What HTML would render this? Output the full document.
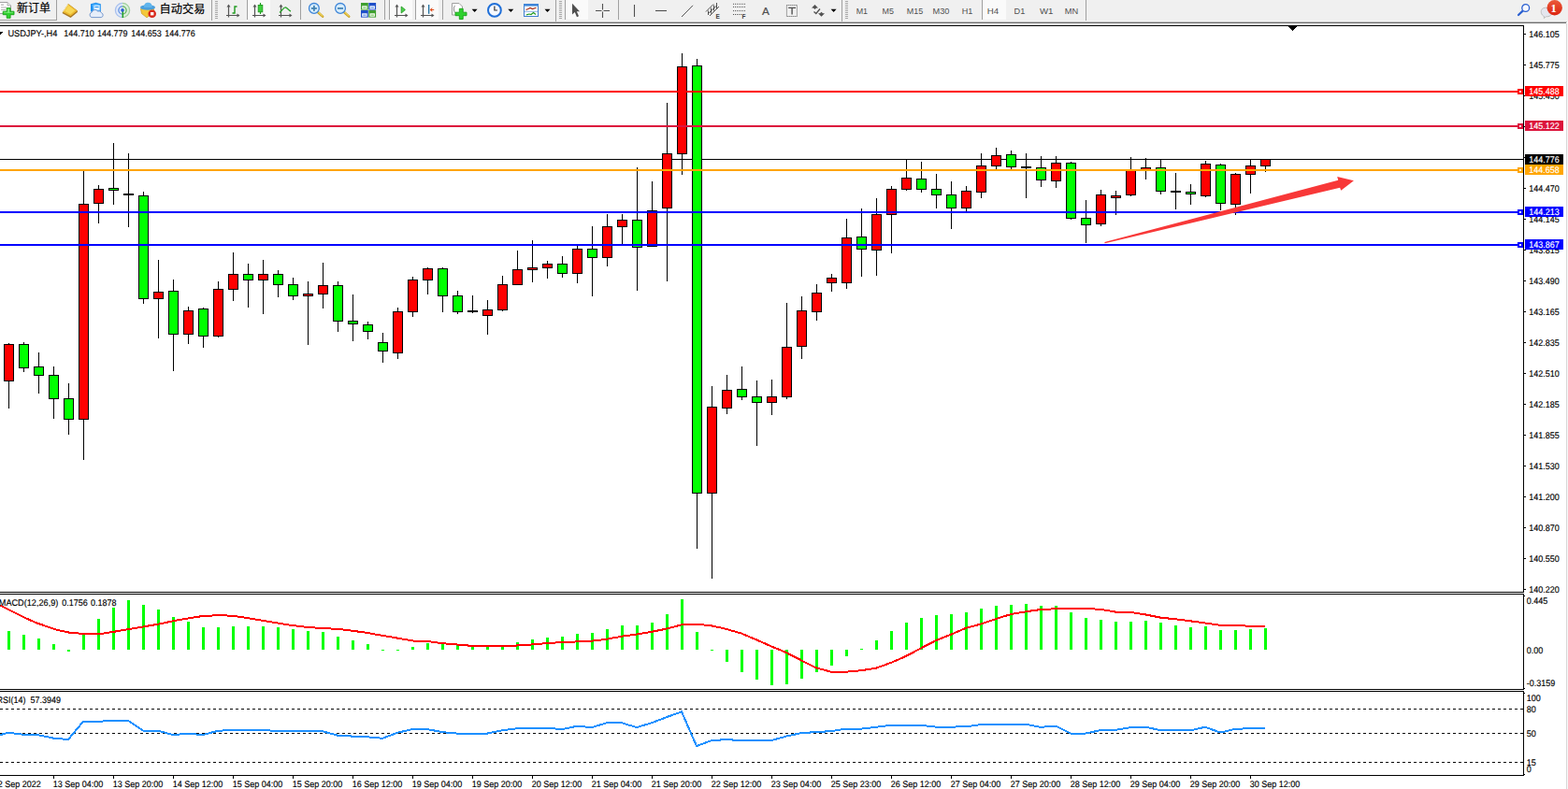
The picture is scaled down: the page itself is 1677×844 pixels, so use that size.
<!DOCTYPE html>
<html><head><meta charset="utf-8"><title>USDJPY H4</title>
<style>
html,body{margin:0;padding:0;background:#fff;overflow:hidden}
body{width:1677px;height:844px;position:relative;font-family:"Liberation Sans",sans-serif}
svg{position:absolute;left:0;top:0;display:block}
text{white-space:pre}
</style></head><body>
<svg width="1677" height="844" viewBox="0 0 1677 844">
<g shape-rendering="crispEdges">
<rect x="0" y="0" width="1677" height="844" fill="#ffffff"/>
<rect x="0" y="0" width="1677" height="23" fill="#f0f0f0"/>
<rect x="0" y="22" width="1677" height="1" fill="#f4f4f4"/>
<rect x="0" y="23" width="1676" height="1" fill="#bdbdbd"/>
<rect x="0" y="24" width="1675" height="1" fill="#6e6e6e"/>
<rect x="1675" y="25" width="1" height="819" fill="#d8d8d8"/>
<rect x="1676" y="25" width="1" height="819" fill="#f8f8f8"/>
<rect x="0" y="27" width="1630" height="1" fill="#000"/>
<rect x="1629" y="27" width="1" height="607" fill="#000"/>
<rect x="0" y="633" width="1630" height="1" fill="#000"/>
<rect x="0" y="635" width="1630" height="1" fill="#000"/>
<rect x="1629" y="635" width="1" height="103" fill="#000"/>
<rect x="0" y="737" width="1630" height="1" fill="#000"/>
<rect x="0" y="739" width="1630" height="1" fill="#000"/>
<rect x="1629" y="739" width="1" height="91" fill="#000"/>
<rect x="0" y="829" width="1630" height="1" fill="#000"/>
<rect x="0" y="170" width="1629" height="1" fill="#000"/>
<rect x="9" y="367" width="1" height="70" fill="#000"/>
<rect x="4" y="368" width="11" height="40" fill="#000"/>
<rect x="5" y="369" width="9" height="38" fill="#ff0000"/>
<rect x="25" y="366" width="1" height="32" fill="#000"/>
<rect x="20" y="368" width="11" height="26" fill="#000"/>
<rect x="21" y="369" width="9" height="24" fill="#00ff00"/>
<rect x="41" y="377" width="1" height="44" fill="#000"/>
<rect x="36" y="392" width="11" height="10" fill="#000"/>
<rect x="37" y="393" width="9" height="8" fill="#00ff00"/>
<rect x="57" y="392" width="1" height="56" fill="#000"/>
<rect x="52" y="401" width="11" height="26" fill="#000"/>
<rect x="53" y="402" width="9" height="24" fill="#00ff00"/>
<rect x="73" y="410" width="1" height="55" fill="#000"/>
<rect x="68" y="426" width="11" height="23" fill="#000"/>
<rect x="69" y="427" width="9" height="21" fill="#00ff00"/>
<rect x="89" y="183" width="1" height="309" fill="#000"/>
<rect x="84" y="218" width="11" height="231" fill="#000"/>
<rect x="85" y="219" width="9" height="229" fill="#ff0000"/>
<rect x="105" y="198" width="1" height="41" fill="#000"/>
<rect x="100" y="202" width="11" height="16" fill="#000"/>
<rect x="101" y="203" width="9" height="14" fill="#ff0000"/>
<rect x="121" y="153" width="1" height="66" fill="#000"/>
<rect x="116" y="201" width="11" height="3" fill="#000"/>
<rect x="117" y="202" width="9" height="1" fill="#00ff00"/>
<rect x="137" y="164" width="1" height="79" fill="#000"/>
<rect x="132" y="207" width="11" height="2" fill="#000"/>
<rect x="153" y="205" width="1" height="120" fill="#000"/>
<rect x="148" y="209" width="11" height="111" fill="#000"/>
<rect x="149" y="210" width="9" height="109" fill="#00ff00"/>
<rect x="169" y="278" width="1" height="84" fill="#000"/>
<rect x="164" y="312" width="11" height="8" fill="#000"/>
<rect x="165" y="313" width="9" height="6" fill="#ff0000"/>
<rect x="185" y="299" width="1" height="98" fill="#000"/>
<rect x="180" y="311" width="11" height="47" fill="#000"/>
<rect x="181" y="312" width="9" height="45" fill="#00ff00"/>
<rect x="201" y="328" width="1" height="40" fill="#000"/>
<rect x="196" y="332" width="11" height="26" fill="#000"/>
<rect x="197" y="333" width="9" height="24" fill="#ff0000"/>
<rect x="217" y="329" width="1" height="43" fill="#000"/>
<rect x="212" y="330" width="11" height="30" fill="#000"/>
<rect x="213" y="331" width="9" height="28" fill="#00ff00"/>
<rect x="233" y="301" width="1" height="60" fill="#000"/>
<rect x="228" y="309" width="11" height="51" fill="#000"/>
<rect x="229" y="310" width="9" height="49" fill="#ff0000"/>
<rect x="249" y="270" width="1" height="52" fill="#000"/>
<rect x="244" y="293" width="11" height="17" fill="#000"/>
<rect x="245" y="294" width="9" height="15" fill="#ff0000"/>
<rect x="265" y="282" width="1" height="47" fill="#000"/>
<rect x="260" y="293" width="11" height="7" fill="#000"/>
<rect x="261" y="294" width="9" height="5" fill="#00ff00"/>
<rect x="281" y="278" width="1" height="58" fill="#000"/>
<rect x="276" y="293" width="11" height="7" fill="#000"/>
<rect x="277" y="294" width="9" height="5" fill="#ff0000"/>
<rect x="297" y="289" width="1" height="29" fill="#000"/>
<rect x="292" y="293" width="11" height="12" fill="#000"/>
<rect x="293" y="294" width="9" height="10" fill="#00ff00"/>
<rect x="313" y="297" width="1" height="24" fill="#000"/>
<rect x="308" y="304" width="11" height="13" fill="#000"/>
<rect x="309" y="305" width="9" height="11" fill="#00ff00"/>
<rect x="329" y="301" width="1" height="68" fill="#000"/>
<rect x="324" y="314" width="11" height="3" fill="#000"/>
<rect x="325" y="315" width="9" height="1" fill="#ff0000"/>
<rect x="345" y="281" width="1" height="49" fill="#000"/>
<rect x="340" y="305" width="11" height="10" fill="#000"/>
<rect x="341" y="306" width="9" height="8" fill="#ff0000"/>
<rect x="361" y="301" width="1" height="54" fill="#000"/>
<rect x="356" y="305" width="11" height="39" fill="#000"/>
<rect x="357" y="306" width="9" height="37" fill="#00ff00"/>
<rect x="377" y="315" width="1" height="50" fill="#000"/>
<rect x="372" y="343" width="11" height="4" fill="#000"/>
<rect x="373" y="344" width="9" height="2" fill="#00ff00"/>
<rect x="393" y="344" width="1" height="19" fill="#000"/>
<rect x="388" y="347" width="11" height="8" fill="#000"/>
<rect x="389" y="348" width="9" height="6" fill="#00ff00"/>
<rect x="409" y="356" width="1" height="32" fill="#000"/>
<rect x="404" y="366" width="11" height="10" fill="#000"/>
<rect x="405" y="367" width="9" height="8" fill="#00ff00"/>
<rect x="425" y="329" width="1" height="55" fill="#000"/>
<rect x="420" y="333" width="11" height="45" fill="#000"/>
<rect x="421" y="334" width="9" height="43" fill="#ff0000"/>
<rect x="441" y="296" width="1" height="43" fill="#000"/>
<rect x="436" y="299" width="11" height="35" fill="#000"/>
<rect x="437" y="300" width="9" height="33" fill="#ff0000"/>
<rect x="457" y="286" width="1" height="29" fill="#000"/>
<rect x="452" y="287" width="11" height="13" fill="#000"/>
<rect x="453" y="288" width="9" height="11" fill="#ff0000"/>
<rect x="473" y="286" width="1" height="48" fill="#000"/>
<rect x="468" y="287" width="11" height="30" fill="#000"/>
<rect x="469" y="288" width="9" height="28" fill="#00ff00"/>
<rect x="489" y="311" width="1" height="25" fill="#000"/>
<rect x="484" y="316" width="11" height="18" fill="#000"/>
<rect x="485" y="317" width="9" height="16" fill="#00ff00"/>
<rect x="505" y="316" width="1" height="19" fill="#000"/>
<rect x="500" y="332" width="11" height="2" fill="#000"/>
<rect x="521" y="321" width="1" height="37" fill="#000"/>
<rect x="516" y="331" width="11" height="7" fill="#000"/>
<rect x="517" y="332" width="9" height="5" fill="#ff0000"/>
<rect x="537" y="295" width="1" height="38" fill="#000"/>
<rect x="532" y="304" width="11" height="28" fill="#000"/>
<rect x="533" y="305" width="9" height="26" fill="#ff0000"/>
<rect x="553" y="268" width="1" height="37" fill="#000"/>
<rect x="548" y="288" width="11" height="17" fill="#000"/>
<rect x="549" y="289" width="9" height="15" fill="#ff0000"/>
<rect x="569" y="257" width="1" height="45" fill="#000"/>
<rect x="564" y="286" width="11" height="3" fill="#000"/>
<rect x="565" y="287" width="9" height="1" fill="#ff0000"/>
<rect x="585" y="279" width="1" height="19" fill="#000"/>
<rect x="580" y="282" width="11" height="5" fill="#000"/>
<rect x="581" y="283" width="9" height="3" fill="#ff0000"/>
<rect x="601" y="274" width="1" height="23" fill="#000"/>
<rect x="596" y="282" width="11" height="11" fill="#000"/>
<rect x="597" y="283" width="9" height="9" fill="#00ff00"/>
<rect x="617" y="263" width="1" height="40" fill="#000"/>
<rect x="612" y="266" width="11" height="27" fill="#000"/>
<rect x="613" y="267" width="9" height="25" fill="#ff0000"/>
<rect x="633" y="242" width="1" height="75" fill="#000"/>
<rect x="628" y="266" width="11" height="10" fill="#000"/>
<rect x="629" y="267" width="9" height="8" fill="#00ff00"/>
<rect x="649" y="229" width="1" height="56" fill="#000"/>
<rect x="644" y="242" width="11" height="34" fill="#000"/>
<rect x="645" y="243" width="9" height="32" fill="#ff0000"/>
<rect x="665" y="229" width="1" height="32" fill="#000"/>
<rect x="660" y="235" width="11" height="8" fill="#000"/>
<rect x="661" y="236" width="9" height="6" fill="#ff0000"/>
<rect x="681" y="179" width="1" height="132" fill="#000"/>
<rect x="676" y="235" width="11" height="30" fill="#000"/>
<rect x="677" y="236" width="9" height="28" fill="#00ff00"/>
<rect x="697" y="194" width="1" height="70" fill="#000"/>
<rect x="692" y="225" width="11" height="39" fill="#000"/>
<rect x="693" y="226" width="9" height="37" fill="#ff0000"/>
<rect x="713" y="110" width="1" height="191" fill="#000"/>
<rect x="708" y="164" width="11" height="59" fill="#000"/>
<rect x="709" y="165" width="9" height="57" fill="#ff0000"/>
<rect x="729" y="57" width="1" height="130" fill="#000"/>
<rect x="724" y="71" width="11" height="94" fill="#000"/>
<rect x="725" y="72" width="9" height="92" fill="#ff0000"/>
<rect x="745" y="63" width="1" height="524" fill="#000"/>
<rect x="740" y="70" width="11" height="458" fill="#000"/>
<rect x="741" y="71" width="9" height="456" fill="#00ff00"/>
<rect x="761" y="413" width="1" height="206" fill="#000"/>
<rect x="756" y="435" width="11" height="93" fill="#000"/>
<rect x="757" y="436" width="9" height="91" fill="#ff0000"/>
<rect x="777" y="401" width="1" height="42" fill="#000"/>
<rect x="772" y="417" width="11" height="20" fill="#000"/>
<rect x="773" y="418" width="9" height="18" fill="#ff0000"/>
<rect x="793" y="392" width="1" height="36" fill="#000"/>
<rect x="788" y="416" width="11" height="9" fill="#000"/>
<rect x="789" y="417" width="9" height="7" fill="#00ff00"/>
<rect x="809" y="407" width="1" height="70" fill="#000"/>
<rect x="804" y="424" width="11" height="7" fill="#000"/>
<rect x="805" y="425" width="9" height="5" fill="#00ff00"/>
<rect x="825" y="406" width="1" height="38" fill="#000"/>
<rect x="820" y="424" width="11" height="7" fill="#000"/>
<rect x="821" y="425" width="9" height="5" fill="#ff0000"/>
<rect x="841" y="324" width="1" height="103" fill="#000"/>
<rect x="836" y="371" width="11" height="54" fill="#000"/>
<rect x="837" y="372" width="9" height="52" fill="#ff0000"/>
<rect x="857" y="317" width="1" height="67" fill="#000"/>
<rect x="852" y="332" width="11" height="39" fill="#000"/>
<rect x="853" y="333" width="9" height="37" fill="#ff0000"/>
<rect x="873" y="304" width="1" height="39" fill="#000"/>
<rect x="868" y="313" width="11" height="21" fill="#000"/>
<rect x="869" y="314" width="9" height="19" fill="#ff0000"/>
<rect x="889" y="293" width="1" height="19" fill="#000"/>
<rect x="884" y="297" width="11" height="6" fill="#000"/>
<rect x="885" y="298" width="9" height="4" fill="#ff0000"/>
<rect x="905" y="234" width="1" height="75" fill="#000"/>
<rect x="900" y="254" width="11" height="49" fill="#000"/>
<rect x="901" y="255" width="9" height="47" fill="#ff0000"/>
<rect x="921" y="223" width="1" height="73" fill="#000"/>
<rect x="916" y="253" width="11" height="14" fill="#000"/>
<rect x="917" y="254" width="9" height="12" fill="#00ff00"/>
<rect x="937" y="212" width="1" height="83" fill="#000"/>
<rect x="932" y="229" width="11" height="39" fill="#000"/>
<rect x="933" y="230" width="9" height="37" fill="#ff0000"/>
<rect x="953" y="199" width="1" height="72" fill="#000"/>
<rect x="948" y="202" width="11" height="28" fill="#000"/>
<rect x="949" y="203" width="9" height="26" fill="#ff0000"/>
<rect x="969" y="171" width="1" height="33" fill="#000"/>
<rect x="964" y="190" width="11" height="13" fill="#000"/>
<rect x="965" y="191" width="9" height="11" fill="#ff0000"/>
<rect x="985" y="173" width="1" height="33" fill="#000"/>
<rect x="980" y="191" width="11" height="12" fill="#000"/>
<rect x="981" y="192" width="9" height="10" fill="#00ff00"/>
<rect x="1001" y="186" width="1" height="37" fill="#000"/>
<rect x="996" y="202" width="11" height="7" fill="#000"/>
<rect x="997" y="203" width="9" height="5" fill="#00ff00"/>
<rect x="1017" y="194" width="1" height="51" fill="#000"/>
<rect x="1012" y="208" width="11" height="15" fill="#000"/>
<rect x="1013" y="209" width="9" height="13" fill="#00ff00"/>
<rect x="1033" y="199" width="1" height="27" fill="#000"/>
<rect x="1028" y="204" width="11" height="19" fill="#000"/>
<rect x="1029" y="205" width="9" height="17" fill="#ff0000"/>
<rect x="1049" y="164" width="1" height="48" fill="#000"/>
<rect x="1044" y="177" width="11" height="29" fill="#000"/>
<rect x="1045" y="178" width="9" height="27" fill="#ff0000"/>
<rect x="1065" y="158" width="1" height="23" fill="#000"/>
<rect x="1060" y="166" width="11" height="12" fill="#000"/>
<rect x="1061" y="167" width="9" height="10" fill="#ff0000"/>
<rect x="1081" y="161" width="1" height="20" fill="#000"/>
<rect x="1076" y="165" width="11" height="14" fill="#000"/>
<rect x="1077" y="166" width="9" height="12" fill="#00ff00"/>
<rect x="1097" y="164" width="1" height="48" fill="#000"/>
<rect x="1092" y="178" width="11" height="2" fill="#000"/>
<rect x="1113" y="167" width="1" height="33" fill="#000"/>
<rect x="1108" y="179" width="11" height="14" fill="#000"/>
<rect x="1109" y="180" width="9" height="12" fill="#00ff00"/>
<rect x="1129" y="167" width="1" height="34" fill="#000"/>
<rect x="1124" y="174" width="11" height="20" fill="#000"/>
<rect x="1125" y="175" width="9" height="18" fill="#ff0000"/>
<rect x="1145" y="173" width="1" height="62" fill="#000"/>
<rect x="1140" y="174" width="11" height="60" fill="#000"/>
<rect x="1141" y="175" width="9" height="58" fill="#00ff00"/>
<rect x="1161" y="214" width="1" height="46" fill="#000"/>
<rect x="1156" y="233" width="11" height="8" fill="#000"/>
<rect x="1157" y="234" width="9" height="6" fill="#00ff00"/>
<rect x="1177" y="203" width="1" height="39" fill="#000"/>
<rect x="1172" y="208" width="11" height="32" fill="#000"/>
<rect x="1173" y="209" width="9" height="30" fill="#ff0000"/>
<rect x="1193" y="204" width="1" height="26" fill="#000"/>
<rect x="1188" y="209" width="11" height="3" fill="#000"/>
<rect x="1189" y="210" width="9" height="1" fill="#ff0000"/>
<rect x="1209" y="168" width="1" height="42" fill="#000"/>
<rect x="1204" y="181" width="11" height="28" fill="#000"/>
<rect x="1205" y="182" width="9" height="26" fill="#ff0000"/>
<rect x="1225" y="169" width="1" height="23" fill="#000"/>
<rect x="1220" y="179" width="11" height="4" fill="#000"/>
<rect x="1221" y="180" width="9" height="2" fill="#ff0000"/>
<rect x="1241" y="170" width="1" height="38" fill="#000"/>
<rect x="1236" y="179" width="11" height="26" fill="#000"/>
<rect x="1237" y="180" width="9" height="24" fill="#00ff00"/>
<rect x="1257" y="185" width="1" height="39" fill="#000"/>
<rect x="1252" y="204" width="11" height="2" fill="#000"/>
<rect x="1273" y="197" width="1" height="22" fill="#000"/>
<rect x="1268" y="205" width="11" height="3" fill="#000"/>
<rect x="1269" y="206" width="9" height="1" fill="#00ff00"/>
<rect x="1289" y="172" width="1" height="39" fill="#000"/>
<rect x="1284" y="175" width="11" height="35" fill="#000"/>
<rect x="1285" y="176" width="9" height="33" fill="#ff0000"/>
<rect x="1305" y="175" width="1" height="50" fill="#000"/>
<rect x="1300" y="176" width="11" height="42" fill="#000"/>
<rect x="1301" y="177" width="9" height="40" fill="#00ff00"/>
<rect x="1321" y="185" width="1" height="45" fill="#000"/>
<rect x="1316" y="186" width="11" height="33" fill="#000"/>
<rect x="1317" y="187" width="9" height="31" fill="#ff0000"/>
<rect x="1337" y="170" width="1" height="37" fill="#000"/>
<rect x="1332" y="177" width="11" height="10" fill="#000"/>
<rect x="1333" y="178" width="9" height="8" fill="#ff0000"/>
<rect x="1353" y="170" width="1" height="14" fill="#000"/>
<rect x="1348" y="170" width="11" height="8" fill="#000"/>
<rect x="1349" y="171" width="9" height="6" fill="#ff0000"/>
<rect x="0" y="97" width="1629" height="2" fill="#ff0000"/>
<rect x="0" y="134" width="1629" height="2" fill="#dc143c"/>
<rect x="0" y="181" width="1629" height="2" fill="#ffa500"/>
<rect x="0" y="226" width="1629" height="2" fill="#0000ff"/>
<rect x="0" y="261" width="1629" height="2" fill="#0000ff"/>
<rect x="8" y="675" width="3" height="20" fill="#00ff00"/>
<rect x="24" y="679" width="3" height="16" fill="#00ff00"/>
<rect x="40" y="683" width="3" height="12" fill="#00ff00"/>
<rect x="56" y="689" width="3" height="6" fill="#00ff00"/>
<rect x="72" y="695" width="3" height="2" fill="#00ff00"/>
<rect x="88" y="679" width="3" height="16" fill="#00ff00"/>
<rect x="104" y="662" width="3" height="33" fill="#00ff00"/>
<rect x="120" y="650" width="3" height="45" fill="#00ff00"/>
<rect x="136" y="642" width="3" height="53" fill="#00ff00"/>
<rect x="152" y="647" width="3" height="48" fill="#00ff00"/>
<rect x="168" y="652" width="3" height="43" fill="#00ff00"/>
<rect x="184" y="660" width="3" height="35" fill="#00ff00"/>
<rect x="200" y="665" width="3" height="30" fill="#00ff00"/>
<rect x="216" y="671" width="3" height="24" fill="#00ff00"/>
<rect x="232" y="671" width="3" height="24" fill="#00ff00"/>
<rect x="248" y="670" width="3" height="25" fill="#00ff00"/>
<rect x="264" y="670" width="3" height="25" fill="#00ff00"/>
<rect x="280" y="670" width="3" height="25" fill="#00ff00"/>
<rect x="296" y="671" width="3" height="24" fill="#00ff00"/>
<rect x="312" y="673" width="3" height="22" fill="#00ff00"/>
<rect x="328" y="675" width="3" height="20" fill="#00ff00"/>
<rect x="344" y="676" width="3" height="19" fill="#00ff00"/>
<rect x="360" y="681" width="3" height="14" fill="#00ff00"/>
<rect x="376" y="685" width="3" height="10" fill="#00ff00"/>
<rect x="392" y="689" width="3" height="6" fill="#00ff00"/>
<rect x="408" y="695" width="3" height="1" fill="#00ff00"/>
<rect x="424" y="695" width="3" height="1" fill="#00ff00"/>
<rect x="440" y="692" width="3" height="3" fill="#00ff00"/>
<rect x="456" y="688" width="3" height="7" fill="#00ff00"/>
<rect x="472" y="689" width="3" height="6" fill="#00ff00"/>
<rect x="488" y="689" width="3" height="6" fill="#00ff00"/>
<rect x="504" y="690" width="3" height="5" fill="#00ff00"/>
<rect x="520" y="691" width="3" height="4" fill="#00ff00"/>
<rect x="536" y="691" width="3" height="4" fill="#00ff00"/>
<rect x="552" y="687" width="3" height="8" fill="#00ff00"/>
<rect x="568" y="684" width="3" height="11" fill="#00ff00"/>
<rect x="584" y="682" width="3" height="13" fill="#00ff00"/>
<rect x="600" y="681" width="3" height="14" fill="#00ff00"/>
<rect x="616" y="678" width="3" height="17" fill="#00ff00"/>
<rect x="632" y="677" width="3" height="18" fill="#00ff00"/>
<rect x="648" y="673" width="3" height="22" fill="#00ff00"/>
<rect x="664" y="669" width="3" height="26" fill="#00ff00"/>
<rect x="680" y="669" width="3" height="26" fill="#00ff00"/>
<rect x="696" y="666" width="3" height="29" fill="#00ff00"/>
<rect x="712" y="657" width="3" height="38" fill="#00ff00"/>
<rect x="728" y="641" width="3" height="54" fill="#00ff00"/>
<rect x="744" y="676" width="3" height="19" fill="#00ff00"/>
<rect x="760" y="695" width="3" height="1" fill="#00ff00"/>
<rect x="776" y="695" width="3" height="13" fill="#00ff00"/>
<rect x="792" y="695" width="3" height="24" fill="#00ff00"/>
<rect x="808" y="695" width="3" height="32" fill="#00ff00"/>
<rect x="824" y="695" width="3" height="38" fill="#00ff00"/>
<rect x="840" y="695" width="3" height="37" fill="#00ff00"/>
<rect x="856" y="695" width="3" height="31" fill="#00ff00"/>
<rect x="872" y="695" width="3" height="24" fill="#00ff00"/>
<rect x="888" y="695" width="3" height="17" fill="#00ff00"/>
<rect x="904" y="695" width="3" height="7" fill="#00ff00"/>
<rect x="920" y="694" width="3" height="1" fill="#00ff00"/>
<rect x="936" y="685" width="3" height="10" fill="#00ff00"/>
<rect x="952" y="675" width="3" height="20" fill="#00ff00"/>
<rect x="968" y="666" width="3" height="29" fill="#00ff00"/>
<rect x="984" y="661" width="3" height="34" fill="#00ff00"/>
<rect x="1000" y="658" width="3" height="37" fill="#00ff00"/>
<rect x="1016" y="657" width="3" height="38" fill="#00ff00"/>
<rect x="1032" y="655" width="3" height="40" fill="#00ff00"/>
<rect x="1048" y="651" width="3" height="44" fill="#00ff00"/>
<rect x="1064" y="648" width="3" height="47" fill="#00ff00"/>
<rect x="1080" y="647" width="3" height="48" fill="#00ff00"/>
<rect x="1096" y="646" width="3" height="49" fill="#00ff00"/>
<rect x="1112" y="648" width="3" height="47" fill="#00ff00"/>
<rect x="1128" y="648" width="3" height="47" fill="#00ff00"/>
<rect x="1144" y="655" width="3" height="40" fill="#00ff00"/>
<rect x="1160" y="661" width="3" height="34" fill="#00ff00"/>
<rect x="1176" y="663" width="3" height="32" fill="#00ff00"/>
<rect x="1192" y="665" width="3" height="30" fill="#00ff00"/>
<rect x="1208" y="665" width="3" height="30" fill="#00ff00"/>
<rect x="1224" y="664" width="3" height="31" fill="#00ff00"/>
<rect x="1240" y="666" width="3" height="29" fill="#00ff00"/>
<rect x="1256" y="669" width="3" height="26" fill="#00ff00"/>
<rect x="1272" y="671" width="3" height="24" fill="#00ff00"/>
<rect x="1288" y="670" width="3" height="25" fill="#00ff00"/>
<rect x="1304" y="674" width="3" height="21" fill="#00ff00"/>
<rect x="1320" y="674" width="3" height="21" fill="#00ff00"/>
<rect x="1336" y="673" width="3" height="22" fill="#00ff00"/>
<rect x="1352" y="672" width="3" height="23" fill="#00ff00"/>
</g>
<polyline points="0,647.5 12.5,653.8 25,660.1 37.6,665.8 50,670.1 62.6,674.3 75,676.8 87.7,677.8 100,677.8 110,677.6 120,676.1 137.7,673.1 155,670.1 170,667.6 185,664.3 200,661.6 218,658.8 233,658.3 248,658.6 263,660.8 278,663.3 295.5,666.3 313,669.1 330.6,671.1 345.6,672.1 360.6,672.8 375.7,674.6 390.7,676.6 405.7,679.3 425,682.6 442.6,685.6 457.6,686.1 472.6,688.1 490,689.6 505,690.9 550,690.9 555,690.1 570,689.4 585,688.1 600,687.1 618,686.4 633,685.6 648,683.9 665.5,680.6 680.5,678.6 698,675.6 713,672.6 729,668.3 750.6,668.3 760.6,669.3 775.7,672.6 793,677.6 808,683.9 825,691.4 841,698.1 857,706.4 873,714.4 889,718.7 905,718.7 921,717.2 937,714.7 953,708.9 969,701.9 985,693.4 1001,685.1 1017,678.8 1033,671.8 1049,667.6 1065,662.1 1081,657.1 1097,654.3 1113,652 1129,651.3 1145,651 1161,651 1177,651.8 1193,654.6 1209,654.9 1225,657.4 1241,660.6 1257,662.3 1273,664.3 1289,666.5 1305,668.8 1321,669.1 1337,669.7 1353,669.9" fill="none" stroke="#ff0000" stroke-width="2" stroke-linejoin="round" shape-rendering="crispEdges"/>
<g shape-rendering="crispEdges">
<line x1="0" y1="758.5" x2="1629" y2="758.5" stroke="#000" stroke-width="1" stroke-dasharray="3,3"/>
<line x1="0" y1="784.5" x2="1629" y2="784.5" stroke="#000" stroke-width="1" stroke-dasharray="3,3"/>
<line x1="0" y1="815.5" x2="1629" y2="815.5" stroke="#000" stroke-width="1" stroke-dasharray="3,3"/>
</g>
<polyline points="-7,788 9,783.8 25,785.8 41,786.3 57,789.6 73,791.1 89,771.8 105,771.8 121,770.8 137,770.8 153,781.6 169,781.6 185,786.1 201,784.8 217,786.1 233,781.8 249,780.8 265,780.8 281,780.8 297,782.3 313,782.3 329,782.3 345,782.3 361,786.6 377,787.6 393,788.3 409,789.8 425,783.8 441,780.1 457,780.1 473,783.1 489,784.6 505,784.6 521,784.6 537,781.3 553,779.3 569,778.8 585,778.8 601,780.1 617,776.8 633,778.1 649,773.3 665,773.3 681,778.1 697,773.3 713,767.1 729,761.3 745,798.1 761,792.1 777,791.1 793,792.1 809,792.1 825,792.1 841,787.6 857,784.1 873,783.1 889,782.1 905,779.6 921,779.6 937,777.8 953,775.8 969,775.6 985,775.8 1001,777.6 1017,777.6 1033,777.3 1049,775.1 1065,774.8 1081,774.8 1097,774.8 1113,777.8 1129,776.6 1145,784.6 1161,784.6 1177,781.1 1193,780.8 1209,778.2 1225,777.7 1241,781.1 1257,781.4 1273,781.4 1289,777.7 1305,783.6 1321,779.9 1337,779.1 1353,778.8" fill="none" stroke="#1e90ff" stroke-width="2" stroke-linejoin="round" shape-rendering="crispEdges"/>
<polygon points="1181.3,259 1431.2,192.7 1430.2,189 1447.9,193.3 1434.2,203.8 1433.1,200.8 1181.7,260.3" fill="#f83838"/>
<g shape-rendering="crispEdges">
<polygon points="1377.5,28 1387.5,28 1382.5,33.5" fill="#000"/>
<polygon points="0,33.5 3.6,33.5 0,37.3" fill="#000"/>
<rect x="1630" y="36" width="2" height="1" fill="#000"/>
<rect x="1630" y="69" width="2" height="1" fill="#000"/>
<rect x="1630" y="102" width="2" height="1" fill="#000"/>
<rect x="1630" y="135" width="2" height="1" fill="#000"/>
<rect x="1630" y="168" width="2" height="1" fill="#000"/>
<rect x="1630" y="201" width="2" height="1" fill="#000"/>
<rect x="1630" y="234" width="2" height="1" fill="#000"/>
<rect x="1630" y="267" width="2" height="1" fill="#000"/>
<rect x="1630" y="300" width="2" height="1" fill="#000"/>
<rect x="1630" y="333" width="2" height="1" fill="#000"/>
<rect x="1630" y="366" width="2" height="1" fill="#000"/>
<rect x="1630" y="399" width="2" height="1" fill="#000"/>
<rect x="1630" y="432" width="2" height="1" fill="#000"/>
<rect x="1630" y="465" width="2" height="1" fill="#000"/>
<rect x="1630" y="498" width="2" height="1" fill="#000"/>
<rect x="1630" y="531" width="2" height="1" fill="#000"/>
<rect x="1630" y="564" width="2" height="1" fill="#000"/>
<rect x="1630" y="597" width="2" height="1" fill="#000"/>
<rect x="1630" y="630" width="2" height="1" fill="#000"/>
</g>
<g font-family="Liberation Sans, sans-serif" font-size="10" fill="#000" stroke="#000" stroke-width="0.15">
<text transform="translate(1635.2,39.7) matrix(0.9000,0,0.002,0.97,0,0)">146.105</text>
<text transform="translate(1635.2,72.7) matrix(0.9000,0,0.002,0.97,0,0)">145.775</text>
<text transform="translate(1635.2,105.7) matrix(0.9000,0,0.002,0.97,0,0)">145.450</text>
<text transform="translate(1635.2,204.7) matrix(0.9000,0,0.002,0.97,0,0)">144.470</text>
<text transform="translate(1635.2,237.7) matrix(0.9000,0,0.002,0.97,0,0)">144.145</text>
<text transform="translate(1635.2,270.7) matrix(0.9000,0,0.002,0.97,0,0)">143.815</text>
<text transform="translate(1635.2,303.7) matrix(0.9000,0,0.002,0.97,0,0)">143.490</text>
<text transform="translate(1635.2,336.7) matrix(0.9000,0,0.002,0.97,0,0)">143.165</text>
<text transform="translate(1635.2,369.7) matrix(0.9000,0,0.002,0.97,0,0)">142.835</text>
<text transform="translate(1635.2,402.7) matrix(0.9000,0,0.002,0.97,0,0)">142.510</text>
<text transform="translate(1635.2,435.7) matrix(0.9000,0,0.002,0.97,0,0)">142.185</text>
<text transform="translate(1635.2,468.7) matrix(0.9000,0,0.002,0.97,0,0)">141.855</text>
<text transform="translate(1635.2,501.7) matrix(0.9000,0,0.002,0.97,0,0)">141.530</text>
<text transform="translate(1635.2,534.7) matrix(0.9000,0,0.002,0.97,0,0)">141.200</text>
<text transform="translate(1635.2,567.7) matrix(0.9000,0,0.002,0.97,0,0)">140.870</text>
<text transform="translate(1635.2,600.7) matrix(0.9000,0,0.002,0.97,0,0)">140.550</text>
<text transform="translate(1635.2,633.7) matrix(0.9000,0,0.002,0.97,0,0)">140.220</text>
<text transform="translate(1632.7,645.9) matrix(0.9000,0,0.002,0.97,0,0)">0.445</text>
<text transform="translate(1632.7,698.9) matrix(0.9000,0,0.002,0.97,0,0)">0.00</text>
<text transform="translate(1632.7,733.9) matrix(0.9000,0,0.002,0.97,0,0)">-0.3159</text>
<text transform="translate(1632.7,749.9) matrix(0.9000,0,0.002,0.97,0,0)">100</text>
<text transform="translate(1632.7,761.9) matrix(0.9000,0,0.002,0.97,0,0)">80</text>
<text transform="translate(1632.7,787.9) matrix(0.9000,0,0.002,0.97,0,0)">50</text>
<text transform="translate(1632.7,818.9) matrix(0.9000,0,0.002,0.97,0,0)">15</text>
<text transform="translate(1632.7,826.1999999999999) matrix(0.9000,0,0.002,0.97,0,0)">0</text>
<text transform="translate(8.4,38.9) matrix(0.9222,0,0.002,0.97,0,0)">USDJPY-,H4</text>
<text transform="translate(68.2,38.9) matrix(0.9000,0,0.002,0.97,0,0)">144.710</text>
<text transform="translate(104,38.9) matrix(0.9000,0,0.002,0.97,0,0)">144.779</text>
<text transform="translate(140.2,38.9) matrix(0.9000,0,0.002,0.97,0,0)">144.653</text>
<text transform="translate(176.2,38.9) matrix(0.9000,0,0.002,0.97,0,0)">144.776</text>
<text transform="translate(-1.2,647.9) matrix(0.9155,0,0.002,0.97,0,0)">MACD(12,26,9)</text>
<text transform="translate(66.2,647.9) matrix(0.9000,0,0.002,0.97,0,0)">0.1756</text>
<text transform="translate(97,647.9) matrix(0.9000,0,0.002,0.97,0,0)">0.1878</text>
<text transform="translate(-3.4,751.8) matrix(0.9000,0,0.002,0.97,0,0)">RSI(14)</text>
<text transform="translate(32.4,751.8) matrix(0.9000,0,0.002,0.97,0,0)">57.3949</text>
<text transform="translate(-7.2,841.6) matrix(0.9000,0,0.002,0.97,0,0)">12 Sep 2022</text>
<text transform="translate(56.8,841.6) matrix(0.9000,0,0.002,0.97,0,0)">13 Sep 04:00</text>
<text transform="translate(120.8,841.6) matrix(0.9000,0,0.002,0.97,0,0)">13 Sep 20:00</text>
<text transform="translate(184.8,841.6) matrix(0.9000,0,0.002,0.97,0,0)">14 Sep 12:00</text>
<text transform="translate(248.8,841.6) matrix(0.9000,0,0.002,0.97,0,0)">15 Sep 04:00</text>
<text transform="translate(312.8,841.6) matrix(0.9000,0,0.002,0.97,0,0)">15 Sep 20:00</text>
<text transform="translate(376.8,841.6) matrix(0.9000,0,0.002,0.97,0,0)">16 Sep 12:00</text>
<text transform="translate(440.8,841.6) matrix(0.9000,0,0.002,0.97,0,0)">19 Sep 04:00</text>
<text transform="translate(504.8,841.6) matrix(0.9000,0,0.002,0.97,0,0)">19 Sep 20:00</text>
<text transform="translate(568.8,841.6) matrix(0.9000,0,0.002,0.97,0,0)">20 Sep 12:00</text>
<text transform="translate(632.8,841.6) matrix(0.9000,0,0.002,0.97,0,0)">21 Sep 04:00</text>
<text transform="translate(696.8,841.6) matrix(0.9000,0,0.002,0.97,0,0)">21 Sep 20:00</text>
<text transform="translate(760.8,841.6) matrix(0.9000,0,0.002,0.97,0,0)">22 Sep 12:00</text>
<text transform="translate(824.8,841.6) matrix(0.9000,0,0.002,0.97,0,0)">23 Sep 04:00</text>
<text transform="translate(888.8,841.6) matrix(0.9000,0,0.002,0.97,0,0)">25 Sep 23:00</text>
<text transform="translate(952.8,841.6) matrix(0.9000,0,0.002,0.97,0,0)">26 Sep 12:00</text>
<text transform="translate(1016.8,841.6) matrix(0.9000,0,0.002,0.97,0,0)">27 Sep 04:00</text>
<text transform="translate(1080.8,841.6) matrix(0.9000,0,0.002,0.97,0,0)">27 Sep 20:00</text>
<text transform="translate(1144.8,841.6) matrix(0.9000,0,0.002,0.97,0,0)">28 Sep 12:00</text>
<text transform="translate(1208.8,841.6) matrix(0.9000,0,0.002,0.97,0,0)">29 Sep 04:00</text>
<text transform="translate(1272.8,841.6) matrix(0.9000,0,0.002,0.97,0,0)">29 Sep 20:00</text>
<text transform="translate(1336.8,841.6) matrix(0.9000,0,0.002,0.97,0,0)">30 Sep 12:00</text>
</g>
<g shape-rendering="crispEdges">
<rect x="57" y="830" width="1" height="3" fill="#000"/>
<rect x="121" y="830" width="1" height="3" fill="#000"/>
<rect x="185" y="830" width="1" height="3" fill="#000"/>
<rect x="249" y="830" width="1" height="3" fill="#000"/>
<rect x="313" y="830" width="1" height="3" fill="#000"/>
<rect x="377" y="830" width="1" height="3" fill="#000"/>
<rect x="441" y="830" width="1" height="3" fill="#000"/>
<rect x="505" y="830" width="1" height="3" fill="#000"/>
<rect x="569" y="830" width="1" height="3" fill="#000"/>
<rect x="633" y="830" width="1" height="3" fill="#000"/>
<rect x="697" y="830" width="1" height="3" fill="#000"/>
<rect x="761" y="830" width="1" height="3" fill="#000"/>
<rect x="825" y="830" width="1" height="3" fill="#000"/>
<rect x="889" y="830" width="1" height="3" fill="#000"/>
<rect x="953" y="830" width="1" height="3" fill="#000"/>
<rect x="1017" y="830" width="1" height="3" fill="#000"/>
<rect x="1081" y="830" width="1" height="3" fill="#000"/>
<rect x="1145" y="830" width="1" height="3" fill="#000"/>
<rect x="1209" y="830" width="1" height="3" fill="#000"/>
<rect x="1273" y="830" width="1" height="3" fill="#000"/>
<rect x="1337" y="830" width="1" height="3" fill="#000"/>
<rect x="1630" y="637" width="1" height="1" fill="#000"/>
<rect x="1630" y="736" width="1" height="1" fill="#000"/>
<rect x="1630" y="741" width="1" height="1" fill="#000"/>
<rect x="1630" y="828" width="1" height="1" fill="#000"/>
<rect x="1631" y="165" width="41" height="11" fill="#000"/>
<rect x="1631" y="92" width="41" height="11" fill="#ff0000"/>
<rect x="1623" y="95" width="6" height="6" fill="#ff0000"/>
<rect x="1625" y="97" width="2" height="2" fill="#fff"/>
<rect x="1631" y="129" width="41" height="11" fill="#dc143c"/>
<rect x="1623" y="132" width="6" height="6" fill="#dc143c"/>
<rect x="1625" y="134" width="2" height="2" fill="#fff"/>
<rect x="1631" y="176" width="41" height="11" fill="#ffa500"/>
<rect x="1623" y="179" width="6" height="6" fill="#ffa500"/>
<rect x="1625" y="181" width="2" height="2" fill="#fff"/>
<rect x="1631" y="221" width="41" height="11" fill="#0000ff"/>
<rect x="1623" y="224" width="6" height="6" fill="#0000ff"/>
<rect x="1625" y="226" width="2" height="2" fill="#fff"/>
<rect x="1631" y="256" width="41" height="11" fill="#0000ff"/>
<rect x="1623" y="259" width="6" height="6" fill="#0000ff"/>
<rect x="1625" y="261" width="2" height="2" fill="#fff"/>
</g>
<g font-family="Liberation Sans, sans-serif" font-size="10" fill="#fff" stroke="#fff" stroke-width="0.15">
<text transform="translate(1635.2,173.9) matrix(0.9000,0,0.002,0.97,0,0)">144.776</text>
<text transform="translate(1635.2,101.4) matrix(0.9000,0,0.002,0.97,0,0)">145.488</text>
<text transform="translate(1635.2,138.4) matrix(0.9000,0,0.002,0.97,0,0)">145.122</text>
<text transform="translate(1635.2,185.4) matrix(0.9000,0,0.002,0.97,0,0)">144.658</text>
<text transform="translate(1635.2,230.4) matrix(0.9000,0,0.002,0.97,0,0)">144.213</text>
<text transform="translate(1635.2,265.4) matrix(0.9000,0,0.002,0.97,0,0)">143.867</text>
</g>
<g shape-rendering="crispEdges"><rect x="60" y="0" width="1" height="22" fill="#a0a0a0"/><rect x="0" y="21" width="61" height="1" fill="#a0a0a0"/></g>
<path d="M-1 2.5H8L11.5 6V14.5H-1Z" fill="#fff" stroke="#a0a0a0" stroke-width="1"/>
<path d="M8 2.5V6H11.5" fill="#e8e8e8" stroke="#a0a0a0" stroke-width=".8"/>
<g fill="#b0b0b0"><rect x="1" y="4.5" width="3" height="1.2"/><rect x="1" y="7.5" width="6" height="1"/><rect x="1" y="10" width="5" height="1"/></g>
<path d="M7.2 8.6H11.1V12.2H15V15.7H11.1V19.3H7.2V15.7H3.2V12.2H7.2Z" fill="#2fd22f" stroke="#18a018" stroke-width=".9"/>
<path d="M8.2 9.6H10.1V13.2H14V14H4.2V13.2H8.2Z" fill="#8ff08f" opacity=".8"/>
<text x="17.9" y="13.2" font-family="Liberation Sans, Noto Sans CJK SC, sans-serif" font-size="12" fill="#000" stroke="#000" stroke-width="0.2">新订单</text>
<polygon points="73,4.1 82.9,11.5 82.9,13 75.6,19 66.8,14.2 66.8,12.9" fill="#a87824"/>
<polygon points="73,4.3 82.5,11.5 75.6,17.3 67.3,12.9" fill="#ecb92f"/>
<polygon points="73.2,5.8 80.3,11.2 75.4,15.2 69.2,11.9" fill="#f7d655"/>
<path d="M67.5 12.6L72.9 4.6" stroke="#fbeaa0" stroke-width="1"/>
<path d="M97 4.3L102.5 2.8 107.8 4.3V12.5H97Z" fill="#1e90f0"/>
<path d="M98.5 5L102.5 3.9 107 5V12H100Z" fill="#52b4ff"/>
<rect x="100.5" y="5.8" width="6" height="5" fill="#dff0ff"/><rect x="101.5" y="7" width="4" height="1" fill="#1e90f0"/>
<path d="M98 18.6a2.8 2.8 0 0 1 .2-5.4 3.6 3.6 0 0 1 6.4-1.2 3 3 0 0 1 3.9 1.8 2.5 2.5 0 0 1-.3 4.8Z" fill="#e6eefa" stroke="#6a8fc8" stroke-width=".9"/>
<path d="M131 3.4a7.6 7.6 0 0 0 0 15.2Z" fill="#dfe8f8"/><path d="M131 3.4a7.6 7.6 0 0 1 0 15.2Z" fill="#dcefdc"/>
<g fill="none" stroke-width="1.3"><path d="M131 6.9a4.1 4.1 0 0 0 0 8.2" stroke="#5f8fe0"/><path d="M131 3.4a7.6 7.6 0 0 0 0 15.2" stroke="#a8c0ee"/><path d="M131 6.9a4.1 4.1 0 0 1 0 8.2" stroke="#5fb05f"/><path d="M131 3.4a7.6 7.6 0 0 1 0 15.2" stroke="#a0d0a0"/></g>
<path d="M131.3 11V19" stroke="#22a022" stroke-width="1.5"/><circle cx="131" cy="10.9" r="1.8" fill="#2a5fd0"/>
<path d="M150.5 9.5L164.5 9.5 164.5 13 157 18.8 151.5 14.5Z" fill="#f3c83a" stroke="#c79a20" stroke-width=".7"/>
<ellipse cx="158" cy="8" rx="8" ry="2.7" fill="#4a9fdc"/><path d="M154 8C154 3.6 156 2.7 158.3 2.7S162.7 3.6 162.7 8Z" fill="#5fb4ec"/>
<circle cx="162.7" cy="14.7" r="4.3" fill="#d8281c"/><rect x="161" y="13" width="3.4" height="3.4" fill="#fff"/>
<text x="170.6" y="14.4" font-family="Liberation Sans, Noto Sans CJK SC, sans-serif" font-size="12.2" fill="#000" stroke="#000" stroke-width="0.2">自动交易</text>
<rect x="226" y="0" width="1" height="22" fill="#a0a0a0" shape-rendering="crispEdges"/>
<rect x="230" y="1" width="3" height="1" fill="#a8a8a8" shape-rendering="crispEdges"/>
<rect x="230" y="3" width="3" height="1" fill="#a8a8a8" shape-rendering="crispEdges"/>
<rect x="230" y="5" width="3" height="1" fill="#a8a8a8" shape-rendering="crispEdges"/>
<rect x="230" y="7" width="3" height="1" fill="#a8a8a8" shape-rendering="crispEdges"/>
<rect x="230" y="9" width="3" height="1" fill="#a8a8a8" shape-rendering="crispEdges"/>
<rect x="230" y="11" width="3" height="1" fill="#a8a8a8" shape-rendering="crispEdges"/>
<rect x="230" y="13" width="3" height="1" fill="#a8a8a8" shape-rendering="crispEdges"/>
<rect x="230" y="15" width="3" height="1" fill="#a8a8a8" shape-rendering="crispEdges"/>
<rect x="230" y="17" width="3" height="1" fill="#a8a8a8" shape-rendering="crispEdges"/>
<rect x="230" y="19" width="3" height="1" fill="#a8a8a8" shape-rendering="crispEdges"/>
<g stroke="#555" stroke-width="1.2" fill="none"><path d="M244.5 6V18.5M242.0 16.5H254.5"/></g>
<polygon points="244.5,4.5 242.5,7.5 246.5,7.5" fill="#555"/><polygon points="256.5,16.5 253.5,14.5 253.5,18.5" fill="#555"/>
<path d="M248.5 14H251V7H253.5" fill="none" stroke="#1f9a1f" stroke-width="1.4"/>
<rect x="264" y="0" width="1" height="21" fill="#a0a0a0" shape-rendering="crispEdges"/>
<rect x="265" y="0" width="24" height="21" fill="#fafafa" shape-rendering="crispEdges"/>
<g stroke="#555" stroke-width="1.2" fill="none"><path d="M272.5 6V18.5M270.0 16.5H282.5"/></g>
<polygon points="272.5,4.5 270.5,7.5 274.5,7.5" fill="#555"/><polygon points="284.5,16.5 281.5,14.5 281.5,18.5" fill="#555"/>
<path d="M278.5 3V15" stroke="#1f9a1f" stroke-width="1.2"/><rect x="276.2" y="5.5" width="4.6" height="7.3" fill="#3fd23f" stroke="#1f9a1f" stroke-width=".9"/>
<g stroke="#555" stroke-width="1.2" fill="none"><path d="M300.5 6V18.5M298.0 16.5H310.5"/></g>
<polygon points="300.5,4.5 298.5,7.5 302.5,7.5" fill="#555"/><polygon points="312.5,16.5 309.5,14.5 309.5,18.5" fill="#555"/>
<path d="M299 13.5C302 11 303.5 7.5 305.5 8S309 11.5 311 12" fill="none" stroke="#2fa52f" stroke-width="1.3"/>
<rect x="321" y="0" width="1" height="21" fill="#a0a0a0" shape-rendering="crispEdges"/>
<path d="M340.2 13.2L345.09999999999997 17.6" stroke="#c9a227" stroke-width="2.6" stroke-linecap="round"/>
<path d="M340.5 12.9L344.9 17.1" stroke="#f1d860" stroke-width="1.1" stroke-linecap="round"/>
<circle cx="335.9" cy="8.9" r="5.4" fill="#d6ecfb" stroke="#3f86d8" stroke-width="1.3"/>
<rect x="332.9" y="8.1" width="6" height="1.7" fill="#3f7fb0"/>
<rect x="335.04999999999995" y="5.9" width="1.7" height="6" fill="#3f7fb0"/>
<path d="M368.3 13.2L373.2 17.6" stroke="#c9a227" stroke-width="2.6" stroke-linecap="round"/>
<path d="M368.6 12.9L373 17.1" stroke="#f1d860" stroke-width="1.1" stroke-linecap="round"/>
<circle cx="364" cy="8.9" r="5.4" fill="#d6ecfb" stroke="#3f86d8" stroke-width="1.3"/>
<rect x="361" y="8.1" width="6" height="1.7" fill="#3f7fb0"/>
<rect x="386" y="3" width="7.8" height="7.6" fill="#3f9f2f"/><rect x="387.2" y="6.3" width="5.4" height="3.4" fill="#fff"/><rect x="388.2" y="7.6" width="3.4" height="1" fill="#5fbf3f"/>
<rect x="394.3" y="3" width="7.8" height="7.6" fill="#1f4fc8"/><rect x="395.5" y="6.3" width="5.4" height="3.4" fill="#fff"/><rect x="396.5" y="7.6" width="3.4" height="1" fill="#3f7fe8"/>
<rect x="386" y="11" width="7.8" height="7.6" fill="#1f4fc8"/><rect x="387.2" y="14.3" width="5.4" height="3.4" fill="#fff"/><rect x="388.2" y="15.6" width="3.4" height="1" fill="#3f7fe8"/>
<rect x="394.3" y="11" width="7.8" height="7.6" fill="#3f9f2f"/><rect x="395.5" y="14.3" width="5.4" height="3.4" fill="#fff"/><rect x="396.5" y="15.6" width="3.4" height="1" fill="#5fbf3f"/>
<rect x="411" y="0" width="1" height="21" fill="#a0a0a0" shape-rendering="crispEdges"/>
<rect x="416" y="0" width="1" height="21" fill="#a0a0a0" shape-rendering="crispEdges"/>
<rect x="417" y="0" width="24" height="21" fill="#fafafa" shape-rendering="crispEdges"/>
<g stroke="#555" stroke-width="1.2" fill="none"><path d="M424.5 6V18.5M422.0 16.5H434.5"/></g>
<polygon points="424.5,4.5 422.5,7.5 426.5,7.5" fill="#555"/><polygon points="436.5,16.5 433.5,14.5 433.5,18.5" fill="#555"/>
<polygon points="429.2,7 429.2,14 433.4,10.5" fill="#4fd24f" stroke="#1f9a1f" stroke-width=".9"/>
<rect x="444" y="0" width="1" height="21" fill="#a0a0a0" shape-rendering="crispEdges"/>
<rect x="445" y="0" width="24" height="21" fill="#fafafa" shape-rendering="crispEdges"/>
<g stroke="#555" stroke-width="1.2" fill="none"><path d="M452.5 6V18.5M450.0 16.5H462.5"/></g>
<polygon points="452.5,4.5 450.5,7.5 454.5,7.5" fill="#555"/><polygon points="464.5,16.5 461.5,14.5 461.5,18.5" fill="#555"/>
<rect x="458" y="5" width="1.3" height="9.8" fill="#1f6f9f"/><polygon points="459.6,10.5 462.5,8 462,10 464.2,10 464.2,11 462,11 462.5,13" fill="#e0501f"/>
<rect x="473" y="0" width="1" height="21" fill="#a0a0a0" shape-rendering="crispEdges"/>
<path d="M483.5 3.5H491L494.5 7V16H483.5Z" fill="#fff" stroke="#a0a0a0" stroke-width="1"/><path d="M486.5 6C485 7 485 12 486.5 13.5" fill="none" stroke="#777" stroke-width=".9"/>
<path d="M491.3 9.3H495.2V13.2H499V16.7H495.2V20.5H491.3V16.7H487V13.2H491.3Z" fill="#2fd22f" stroke="#18a018" stroke-width=".9"/>
<polygon points="504.6,9.8 510.6,9.8 507.6,12.9" fill="#000"/>
<circle cx="528.9" cy="10.9" r="6.9" fill="#f4f8ff" stroke="#1f6fd8" stroke-width="2"/><path d="M528.9 6.5V11H532" fill="none" stroke="#333" stroke-width="1.2"/>
<polygon points="543.3,9.8 549.3,9.8 546.3,12.9" fill="#000"/>
<rect x="560.5" y="4.5" width="15" height="13" fill="#fff" stroke="#3f7fd0" stroke-width="1"/><rect x="560" y="4" width="16" height="2.6" fill="#3f86d8"/><rect x="561" y="11.8" width="14" height=".9" fill="#7fa8e0"/>
<path d="M562.5 10.5L565 9.5 567 8.5 569.5 9.5 573.5 8.3" fill="none" stroke="#a82a10" stroke-width="1.2"/><path d="M563 15.8L566 15 568 15.5 570.5 13.5 573 15.5" fill="none" stroke="#1f9a1f" stroke-width="1.2"/>
<polygon points="582.5,9.8 588.5,9.8 585.5,12.9" fill="#000"/>
<rect x="594" y="0" width="1" height="23" fill="#a0a0a0" shape-rendering="crispEdges"/>
<rect x="598" y="1" width="3" height="1" fill="#a8a8a8" shape-rendering="crispEdges"/>
<rect x="598" y="3" width="3" height="1" fill="#a8a8a8" shape-rendering="crispEdges"/>
<rect x="598" y="5" width="3" height="1" fill="#a8a8a8" shape-rendering="crispEdges"/>
<rect x="598" y="7" width="3" height="1" fill="#a8a8a8" shape-rendering="crispEdges"/>
<rect x="598" y="9" width="3" height="1" fill="#a8a8a8" shape-rendering="crispEdges"/>
<rect x="598" y="11" width="3" height="1" fill="#a8a8a8" shape-rendering="crispEdges"/>
<rect x="598" y="13" width="3" height="1" fill="#a8a8a8" shape-rendering="crispEdges"/>
<rect x="598" y="15" width="3" height="1" fill="#a8a8a8" shape-rendering="crispEdges"/>
<rect x="598" y="17" width="3" height="1" fill="#a8a8a8" shape-rendering="crispEdges"/>
<rect x="598" y="19" width="3" height="1" fill="#a8a8a8" shape-rendering="crispEdges"/>
<rect x="604" y="0" width="1" height="21" fill="#a0a0a0" shape-rendering="crispEdges"/>
<rect x="605" y="0" width="24" height="21" fill="#fafafa" shape-rendering="crispEdges"/>
<path d="M612 3.8V15.5L614.8 13 617 18.2 619 17.3 616.8 12.3H620Z" fill="#505050"/>
<g stroke="#505050" stroke-width="1.1"><path d="M637 11.5H643.5M645.5 11.5H652M644.5 4V10.5M644.5 12.5V19"/><path d="M678.5 5V18"/><path d="M701 11.5H713"/></g><path d="M729 18L741 5.8" stroke="#505050" stroke-width="1"/>
<rect x="661" y="0" width="1" height="21" fill="#a0a0a0" shape-rendering="crispEdges"/>
<g stroke="#505050" stroke-width="1" fill="none"><path d="M755 12.5L763 4.5M759 17L769 7M757 15L766.5 6M757.5 11.5V16M760.5 8.5V14.5M763.5 5.5V11.5M766.5 3V9"/></g>
<text x="765.6" y="19.8" font-family="Liberation Sans, sans-serif" font-size="6.5" font-weight="bold" fill="#404040">E</text>
<line x1="784" y1="4.3" x2="797.3" y2="4.3" stroke="#505050" stroke-width="1" stroke-dasharray="1,1"/>
<line x1="784" y1="7.4" x2="797.3" y2="7.4" stroke="#505050" stroke-width="1" stroke-dasharray="1,1"/>
<line x1="784" y1="11.6" x2="797.3" y2="11.6" stroke="#505050" stroke-width="1" stroke-dasharray="1,1"/>
<line x1="784" y1="15.5" x2="793" y2="15.5" stroke="#505050" stroke-width="1" stroke-dasharray="1,1"/>
<text x="793.6" y="19.8" font-family="Liberation Sans, sans-serif" font-size="6.5" font-weight="bold" fill="#404040">F</text>
<text x="814.9" y="15.9" font-family="Liberation Sans, sans-serif" font-size="11.8" fill="#505050" stroke="#505050" stroke-width=".2">A</text>
<rect x="841.4" y="5.5" width="11" height="12" fill="none" stroke="#505050" stroke-width="1" stroke-dasharray="1,1"/>
<path d="M843.2 8.4H851M847.1 8.4V15.5" stroke="#505050" stroke-width="1.4" fill="none"/>
<polygon points="871.5,5 868,8.5 875,8.5" fill="#505050"/><polygon points="869.5,8 873.5,8 871.5,10" fill="#505050"/>
<path d="M870.5 12.5L872.8 14.5 877 9.5" fill="none" stroke="#505050" stroke-width="1.3"/>
<polygon points="878.5,17.8 875,14.3 882,14.3" fill="#505050"/><polygon points="876.5,14.8 880.5,14.8 878.5,12.8" fill="#505050"/>
<polygon points="888.6,9.8 894.6,9.8 891.6,12.9" fill="#000"/>
<rect x="900" y="0" width="1" height="23" fill="#a0a0a0" shape-rendering="crispEdges"/>
<rect x="904" y="1" width="3" height="1" fill="#a8a8a8" shape-rendering="crispEdges"/>
<rect x="904" y="3" width="3" height="1" fill="#a8a8a8" shape-rendering="crispEdges"/>
<rect x="904" y="5" width="3" height="1" fill="#a8a8a8" shape-rendering="crispEdges"/>
<rect x="904" y="7" width="3" height="1" fill="#a8a8a8" shape-rendering="crispEdges"/>
<rect x="904" y="9" width="3" height="1" fill="#a8a8a8" shape-rendering="crispEdges"/>
<rect x="904" y="11" width="3" height="1" fill="#a8a8a8" shape-rendering="crispEdges"/>
<rect x="904" y="13" width="3" height="1" fill="#a8a8a8" shape-rendering="crispEdges"/>
<rect x="904" y="15" width="3" height="1" fill="#a8a8a8" shape-rendering="crispEdges"/>
<rect x="904" y="17" width="3" height="1" fill="#a8a8a8" shape-rendering="crispEdges"/>
<rect x="904" y="19" width="3" height="1" fill="#a8a8a8" shape-rendering="crispEdges"/>
<rect x="1050" y="0" width="1" height="21" fill="#a0a0a0" shape-rendering="crispEdges"/>
<rect x="1051" y="0" width="25" height="21" fill="#fafafa" shape-rendering="crispEdges"/>
<rect x="1161" y="0" width="1" height="22" fill="#a0a0a0" shape-rendering="crispEdges"/>
<text x="915.7" y="14.8" textLength="12.399999999999977" lengthAdjust="spacingAndGlyphs" font-family="Liberation Sans, sans-serif" font-size="9.6" fill="#505050">M1</text>
<text x="943.6" y="14.8" textLength="12.399999999999977" lengthAdjust="spacingAndGlyphs" font-family="Liberation Sans, sans-serif" font-size="9.6" fill="#505050">M5</text>
<text x="969.7" y="14.8" textLength="17.5" lengthAdjust="spacingAndGlyphs" font-family="Liberation Sans, sans-serif" font-size="9.6" fill="#505050">M15</text>
<text x="997.5" y="14.8" textLength="17.899999999999977" lengthAdjust="spacingAndGlyphs" font-family="Liberation Sans, sans-serif" font-size="9.6" fill="#505050">M30</text>
<text x="1028.7" y="14.8" textLength="11.599999999999909" lengthAdjust="spacingAndGlyphs" font-family="Liberation Sans, sans-serif" font-size="9.6" fill="#505050">H1</text>
<text x="1055.8" y="14.8" textLength="12.400000000000091" lengthAdjust="spacingAndGlyphs" font-family="Liberation Sans, sans-serif" font-size="9.6" fill="#505050">H4</text>
<text x="1084.6" y="14.8" textLength="11.700000000000045" lengthAdjust="spacingAndGlyphs" font-family="Liberation Sans, sans-serif" font-size="9.6" fill="#505050">D1</text>
<text x="1112" y="14.8" textLength="14.5" lengthAdjust="spacingAndGlyphs" font-family="Liberation Sans, sans-serif" font-size="9.6" fill="#505050">W1</text>
<text x="1138.8" y="14.8" textLength="14.400000000000091" lengthAdjust="spacingAndGlyphs" font-family="Liberation Sans, sans-serif" font-size="9.6" fill="#505050">MN</text>
<path d="M1628.6 11.6L1624 16" stroke="#2a5fd0" stroke-width="2.2" stroke-linecap="round"/><circle cx="1631.7" cy="8.5" r="3.9" fill="#f6f8ff" stroke="#2a5fd0" stroke-width="1.3"/>
<path d="M1653.8 8.2C1649 8.2 1648 11 1648.3 13.2 1648.6 15.5 1650 17 1651.5 17.5L1651.3 19.6 1653.5 17.8C1657 18 1659.8 16.5 1659.8 13Z" fill="#e4e6ee" stroke="#b4b4b4" stroke-width=".8"/>
<defs><linearGradient id="bg1" x1="0" y1="0" x2="0" y2="1"><stop offset="0" stop-color="#ea5a3a"/><stop offset="1" stop-color="#dc2410"/></linearGradient></defs>
<circle cx="1662.7" cy="8.3" r="8.2" fill="url(#bg1)"/>
<text x="1661.7" y="12.9" text-anchor="middle" font-family="Liberation Serif, serif" font-size="12.5" font-weight="bold" fill="#fff">1</text>
</svg>
</body></html>
